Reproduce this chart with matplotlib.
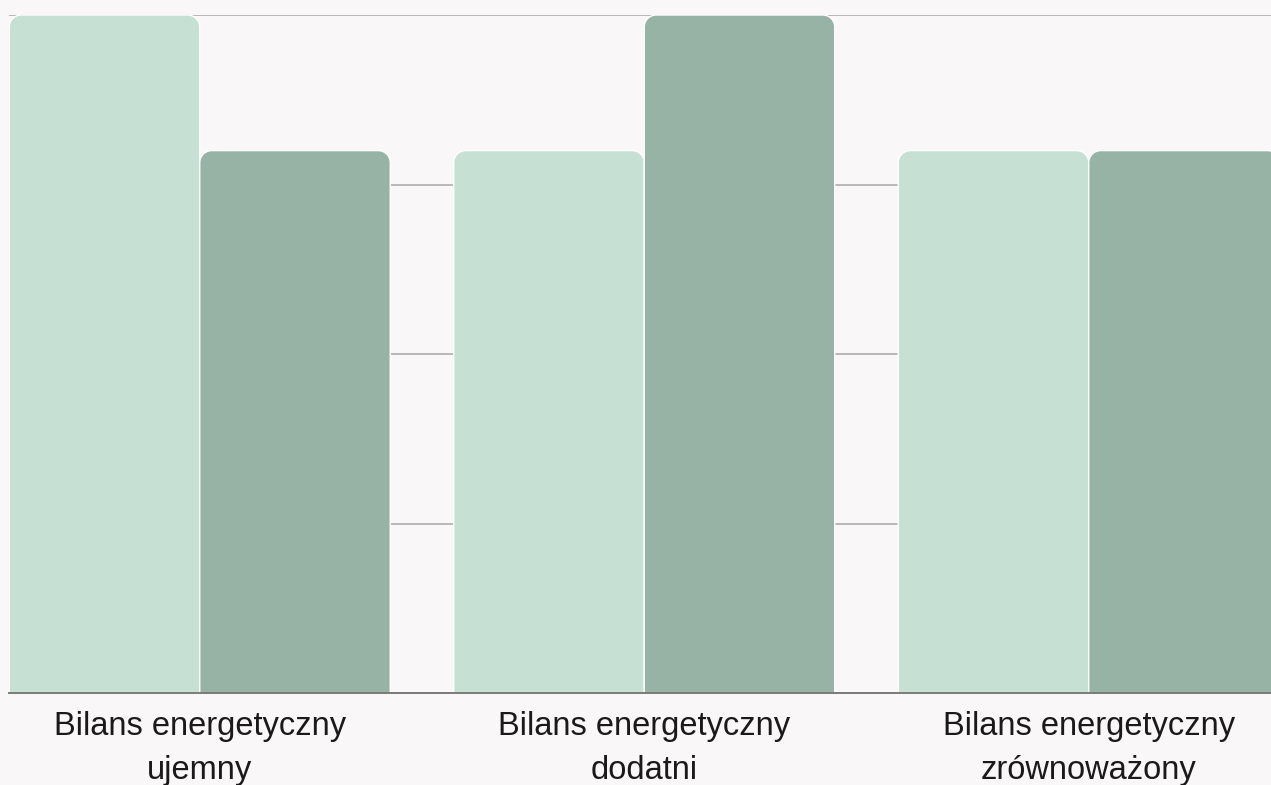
import matplotlib
matplotlib.use("Agg")
import matplotlib.pyplot as plt
from matplotlib.path import Path
from matplotlib.patches import PathPatch

# Data
categories = ["Bilans energetyczny\nujemny",
              "Bilans energetyczny\ndodatni",
              "Bilans energetyczny\nzrównoważony"]
intake = [100, 80, 80]        # light bars
expenditure = [80, 100, 80]   # dark bars
grid_ticks = [0, 25, 50, 75, 100]

LIGHT = "#c6e0d4"
DARK = "#97b3a5"
BG = "#f9f7f8"

W, H, DPI = 1271, 785, 100
fig = plt.figure(figsize=(W / DPI, H / DPI), dpi=DPI, facecolor=BG)

left_px, right_px, top_px, base_px = 9, 1271, 15, 693
ax = fig.add_axes([left_px / W, (H - base_px) / H,
                   (right_px - left_px) / W, (base_px - top_px) / H])
ax.set_facecolor(BG)

group_px = 444.5
bar_w = 0.4286
x0 = -(199.75 - left_px) / group_px
ax.set_xlim(x0, x0 + (right_px - left_px) / group_px)
ax.set_ylim(0, 100)

xs = list(range(len(categories)))
b1 = ax.bar([x - bar_w / 2 for x in xs], intake, width=bar_w, color=LIGHT)
b2 = ax.bar([x + bar_w / 2 for x in xs], expenditure, width=bar_w, color=DARK)

# Replace square bars with shapes whose top corners are rounded
fig.canvas.draw()
px_per_x = ax.bbox.width / (ax.get_xlim()[1] - ax.get_xlim()[0])
px_per_y = ax.bbox.height / (ax.get_ylim()[1] - ax.get_ylim()[0])
r_px = 12
rx, ry = r_px / px_per_x, r_px / px_per_y
k = 0.5523

def rounded_top(x, y, w, h):
    verts = [
        (x, y), (x, y + h - ry),
        (x, y + h - ry + k * ry), (x + rx - k * rx, y + h), (x + rx, y + h),
        (x + w - rx, y + h),
        (x + w - rx + k * rx, y + h), (x + w, y + h - ry + k * ry), (x + w, y + h - ry),
        (x + w, y), (x, y),
    ]
    codes = [Path.MOVETO, Path.LINETO,
             Path.CURVE4, Path.CURVE4, Path.CURVE4,
             Path.LINETO,
             Path.CURVE4, Path.CURVE4, Path.CURVE4,
             Path.LINETO, Path.CLOSEPOLY]
    return Path(verts, codes)

for container in (b1, b2):
    for rect in container:
        x, y = rect.get_x(), rect.get_y()
        w, h = rect.get_width(), rect.get_height()
        color = rect.get_facecolor()
        rect.set_visible(False)
        ax.add_patch(PathPatch(rounded_top(x, y, w, h), facecolor=color,
                               edgecolor="#ffffff", linewidth=1.0, zorder=2))

# Horizontal gridlines behind bars
ax.set_yticks(grid_ticks)
ax.yaxis.grid(True, color="#b9b7b8", linewidth=1.4, zorder=0)
ax.set_axisbelow(True)
ax.tick_params(axis="y", left=False, labelleft=False)

for s in ("top", "right", "left"):
    ax.spines[s].set_visible(False)
ax.spines["bottom"].set_color("#7a7a7a")
ax.spines["bottom"].set_linewidth(1.4)
ax.spines["bottom"].set_zorder(5)

ax.set_xticks(xs)
ax.set_xticklabels(categories, fontsize=23.5, family="Liberation Sans",
                   color="#1a1a1a", linespacing=1.55)
ax.tick_params(axis="x", length=0, pad=13)

fig.savefig("out.png", dpi=DPI, facecolor=BG)
